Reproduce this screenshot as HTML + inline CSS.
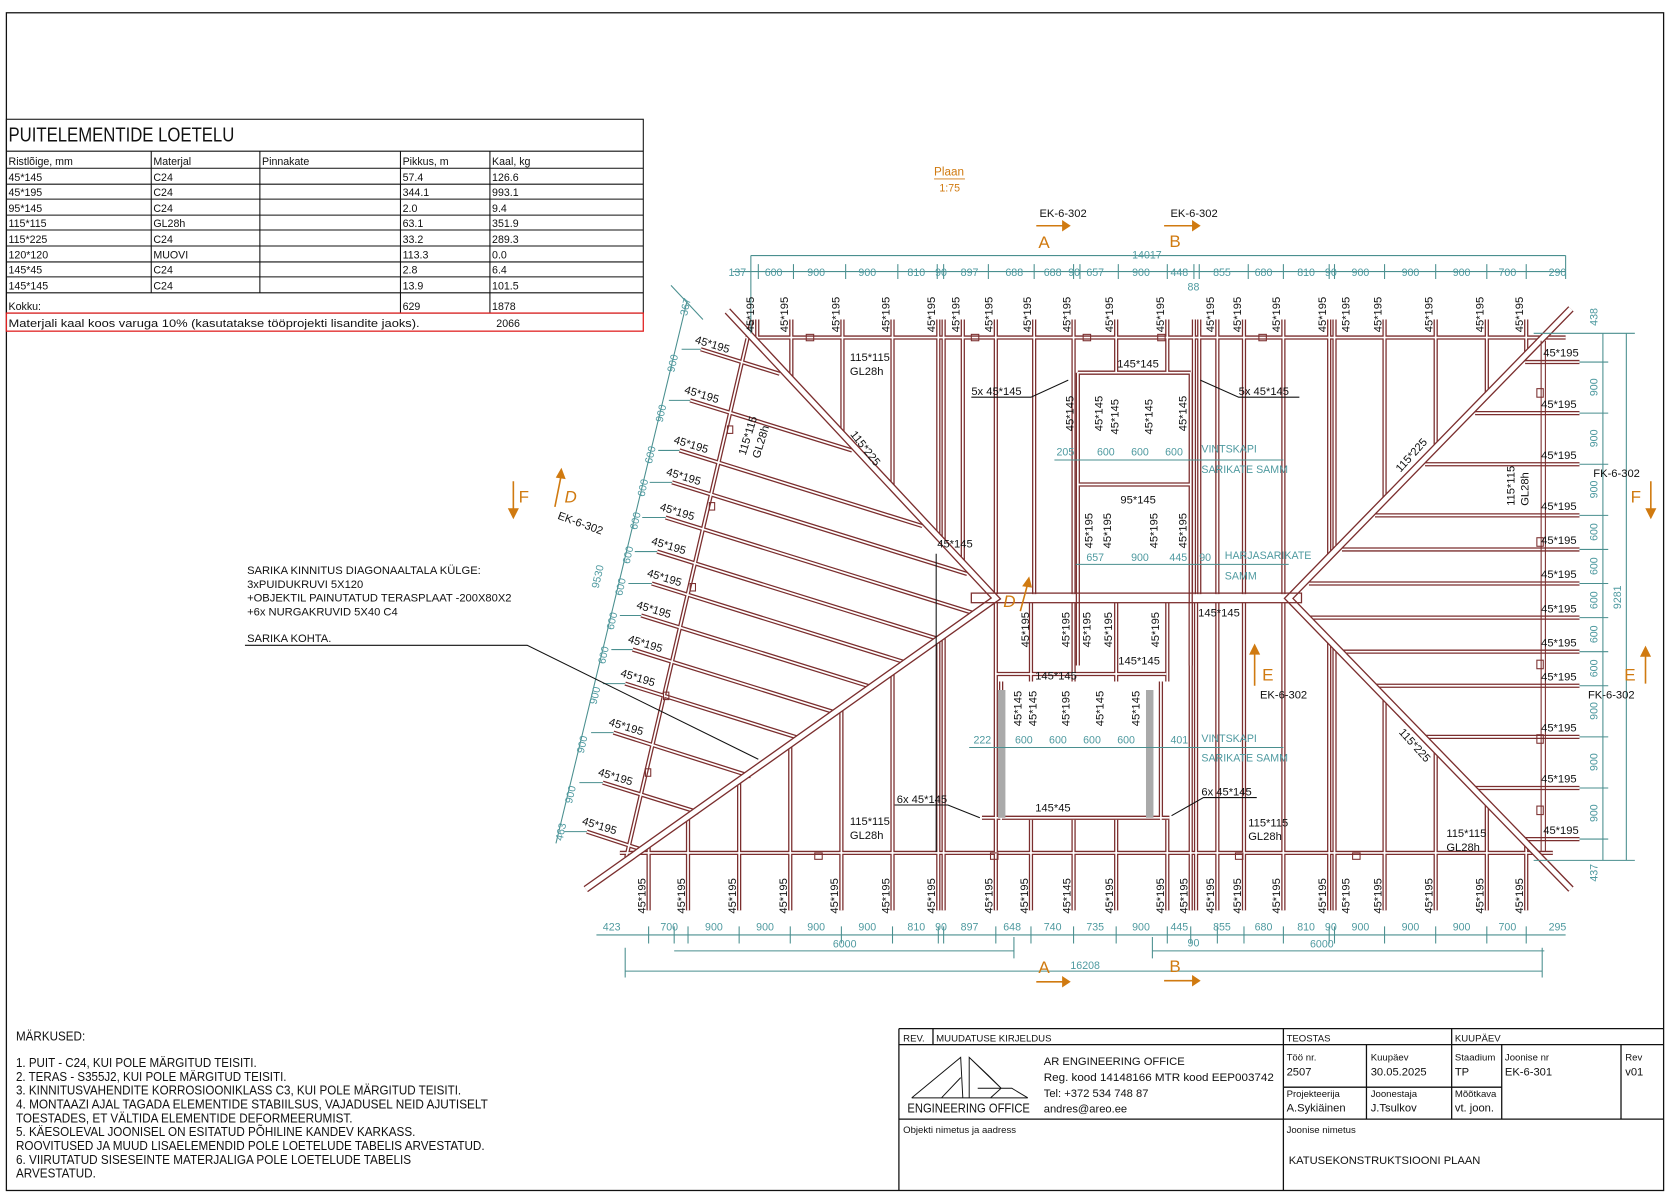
<!DOCTYPE html>
<html><head><meta charset="utf-8"><style>
html,body{margin:0;padding:0;background:#fff;}
svg{display:block}
text{font-family:"Liberation Sans Narrow","Liberation Sans",sans-serif;}
.t{fill:#111;font-size:10px}
.tl{fill:#4f9aa0;font-size:10px}
.o{fill:#d07a10;font-size:14px}
.rl{fill:#111;font-size:10.5px}
</style></head><body>
<svg width="1670" height="1199" viewBox="0 0 1568 1126" preserveAspectRatio="none" xmlns="http://www.w3.org/2000/svg">
<defs>
<g id="R">
<path d="M700 317H1470 M582 801H1458"/>
<path d="M711 300V323 M743 300V357 M791 300V408 M838 300V459 M881 300V504 M886 300V509 M904 300V529 M935 300V558 M971 300V558 M1008 300V558 M1048 300V350 M1096 300V350 M1121 300V558 M1126 300V558 M1143 300V558 M1168 300V558 M1205 300V558 M1248 300V523 M1253 300V518 M1300 300V470 M1348 300V420 M1396 300V371 M1433 300V333"/>
<path d="M609 793V855 M646 767V855 M694 733V855 M742 699V855 M790 665V855 M838 631V855 M881 600V855 M886 597V855 M935 566V855 M968 566V640 M1008 566V640 M1048 566V640 M1096 566V640 M1118 566V855 M1123 566V855 M1143 566V855 M1168 566V855 M1205 566V855 M1248 601V855 M1253 606V855 M1300 655V855 M1348 705V855 M1396 754V855 M1433 793V855 M968 770V855 M1008 770V855 M1048 770V855 M1096 770V855"/>
<path d="M658 328L732 351 M648 376L800 423 M638 423L866 494 M631 453L908 539 M625 486L918 577 M617 518L884 601 M612 548L853 623 M602 578L821 646 M594 610L787 670 M587 642L753 694 M576 688L705 729 M566 735L656 763 M551 781L606 799"/>
<path d="M1432 340H1483 M1385 388H1483 M1338 436H1483 M1291 484H1483 M1260 516H1483 M1229 548H1483 M1230 580H1483 M1261 612H1483 M1292 644H1483 M1338 692H1483 M1385 740H1483 M1432 788H1483"/>
<path d="M706 300L588 805"/>
<path d="M1012 350H1118 M1012 455H1118 M935 633H1095 M1012 350V625 M1118 350V625 M940 640V770 M1090 640V770 M922 768H1098"/>
</g>
<g id="H"><path d="M683 292L935 562L550 835 M1475 290L1210 562L1475 835"/></g>
</defs>
<rect x="6" y="12" width="1556" height="1106" fill="none" stroke="#111" stroke-width="1.2"/>

<g stroke="#111" stroke-width="1" fill="none">
<rect x="6" y="112" width="598" height="182"/>
<path d="M6 142H604 M6 158H604 M6 173H604 M6 187H604 M6 202H604 M6 216H604 M6 231H604 M6 246H604 M6 260H604 M6 275H604"/>
<path d="M142 142V275 M244 142V275 M376 142V294 M460 142V294"/>
</g>
<rect x="6" y="294" width="598" height="17" fill="none" stroke="#e02020" stroke-width="1.2"/>
<text x="8" y="133" style="font-size:19px" fill="#111" textLength="212" lengthAdjust="spacingAndGlyphs">PUITELEMENTIDE LOETELU</text>
<g class="t">
<text x="8" y="155">Ristlõige, mm</text><text x="144" y="155">Materjal</text><text x="246" y="155">Pinnakate</text><text x="378" y="155">Pikkus, m</text><text x="462" y="155">Kaal, kg</text>
<text x="8" y="170">45*145</text><text x="144" y="170">C24</text><text x="378" y="170">57.4</text><text x="462" y="170">126.6</text>
<text x="8" y="184">45*195</text><text x="144" y="184">C24</text><text x="378" y="184">344.1</text><text x="462" y="184">993.1</text>
<text x="8" y="199">95*145</text><text x="144" y="199">C24</text><text x="378" y="199">2.0</text><text x="462" y="199">9.4</text>
<text x="8" y="213">115*115</text><text x="144" y="213">GL28h</text><text x="378" y="213">63.1</text><text x="462" y="213">351.9</text>
<text x="8" y="228">115*225</text><text x="144" y="228">C24</text><text x="378" y="228">33.2</text><text x="462" y="228">289.3</text>
<text x="8" y="243">120*120</text><text x="144" y="243">MUOVI</text><text x="378" y="243">113.3</text><text x="462" y="243">0.0</text>
<text x="8" y="257">145*45</text><text x="144" y="257">C24</text><text x="378" y="257">2.8</text><text x="462" y="257">6.4</text>
<text x="8" y="272">145*145</text><text x="144" y="272">C24</text><text x="378" y="272">13.9</text><text x="462" y="272">101.5</text>
<text x="8" y="291">Kokku:</text><text x="378" y="291">629</text><text x="462" y="291">1878</text>
<text x="8" y="307" textLength="386" lengthAdjust="spacingAndGlyphs">Materjali kaal koos varuga 10% (kasutatakse tööprojekti lisandite jaoks).</text><text x="466" y="307">2066</text>
</g>

<g fill="none" stroke="#7b2e2e" stroke-width="4"><use href="#R"/></g>
<g fill="none" stroke="#fff" stroke-width="1.6"><use href="#R"/></g>
<g fill="none" stroke="#7b2e2e" stroke-width="7"><use href="#H"/></g>
<g fill="none" stroke="#fff" stroke-width="4.5"><use href="#H"/></g>
<rect x="912" y="557" width="310" height="9" fill="none" stroke="#7b2e2e" stroke-width="1.2"/>
<g fill="none" stroke="#7b2e2e" stroke-width="1">
<path d="M1447 320V800 M1451 320V800"/>
<rect x="757" y="314" width="7" height="6"/><rect x="912" y="314" width="7" height="6"/><rect x="1017" y="314" width="7" height="6"/><rect x="1087" y="314" width="7" height="6"/><rect x="1182" y="314" width="7" height="6"/>
<rect x="683" y="400" width="5" height="7"/><rect x="666" y="472" width="5" height="7"/><rect x="648" y="548" width="5" height="7"/><rect x="623" y="650" width="5" height="7"/><rect x="606" y="722" width="5" height="7"/>
<rect x="765" y="801" width="7" height="6"/><rect x="930" y="801" width="7" height="6"/><rect x="1160" y="801" width="7" height="6"/><rect x="1270" y="801" width="7" height="6"/>
<rect x="1443" y="365" width="6" height="8"/><rect x="1443" y="505" width="6" height="8"/><rect x="1443" y="620" width="6" height="8"/><rect x="1443" y="690" width="6" height="8"/><rect x="1443" y="757" width="6" height="8"/>
</g>
<rect x="937" y="648" width="7" height="120" fill="#aaa"/><rect x="1076" y="648" width="7" height="120" fill="#aaa"/>
<path d="M879 520V800" stroke="#111" stroke-width="1"/>

<g stroke="#4a8f8f" stroke-width="1" fill="none">
<path d="M688 255H1470 M705 240H1470 M705 240V313 M1470 240V262"/>
<path d="M712 248V262 M745 248V262 M794 248V262 M843 248V262 M880 248V262 M886 248V262 M928 248V262 M971 248V262 M1008 248V262 M1014 248V262 M1050 248V262 M1096 248V262 M1121 248V262 M1126 248V262 M1172 248V262 M1205 248V262 M1248 248V262 M1253 248V262 M1300 248V262 M1348 248V262 M1396 248V262 M1433 248V262"/>
<path d="M560 878H1470 M633 870V886 M609 870V886 M646 870V886 M694 870V886 M742 870V886 M790 870V886 M838 870V886 M881 870V886 M886 870V886 M935 870V886 M968 870V886 M1008 870V886 M1048 870V886 M1096 870V886 M1118 870V886 M1143 870V886 M1168 870V886 M1205 870V886 M1248 870V886 M1253 870V886 M1300 870V886 M1348 870V886 M1396 870V886 M1433 870V886"/>
<path d="M633 893H952 M952 880V900 M1082 893H1450 M1082 880V900 M587 912H1448 M587 890V918 M1448 890V918"/>
<path d="M1505 313V808 M1527 313V808 M1440 313H1535 M1440 808H1535 M1483 340H1510 M1483 388H1510 M1483 436H1510 M1483 484H1510 M1483 516H1510 M1483 548H1510 M1483 580H1510 M1483 612H1510 M1483 644H1510 M1483 692H1510 M1483 740H1510 M1483 788H1510"/>
<path d="M645 283L522 792 M630 268L660 300 M640 328L658 328 M628 376L648 376 M618 423L638 423 M610 453L631 453 M603 486L625 486 M596 518L617 518 M590 548L612 548 M582 578L602 578 M574 610L594 610 M566 642L587 642 M555 688L576 688 M544 735L566 735 M530 781L551 781"/>
<path d="M990 432H1205 M1010 530H1210 M910 702H1205"/>
</g>
<g class="tl">
<text x="684" y="259">137</text><text x="718" y="259">600</text><text x="758" y="259">900</text><text x="806" y="259">900</text><text x="852" y="259">810</text><text x="878" y="259">90</text><text x="902" y="259">897</text><text x="944" y="259">688</text><text x="980" y="259">688</text><text x="1003" y="259">90</text><text x="1020" y="259">657</text><text x="1063" y="259">900</text><text x="1099" y="259">448</text><text x="1115" y="273">88</text><text x="1139" y="259">855</text><text x="1178" y="259">680</text><text x="1218" y="259">810</text><text x="1244" y="259">90</text><text x="1269" y="259">900</text><text x="1316" y="259">900</text><text x="1364" y="259">900</text><text x="1407" y="259">700</text><text x="1454" y="259">290</text>
<text x="1063" y="243">14017</text>
<text x="566" y="874">423</text><text x="620" y="874">700</text><text x="662" y="874">900</text><text x="710" y="874">900</text><text x="758" y="874">900</text><text x="806" y="874">900</text><text x="852" y="874">810</text><text x="878" y="874">90</text><text x="902" y="874">897</text><text x="942" y="874">648</text><text x="980" y="874">740</text><text x="1020" y="874">735</text><text x="1063" y="874">900</text><text x="1099" y="874">445</text><text x="1139" y="874">855</text><text x="1178" y="874">680</text><text x="1218" y="874">810</text><text x="1244" y="874">90</text><text x="1269" y="874">900</text><text x="1316" y="874">900</text><text x="1364" y="874">900</text><text x="1407" y="874">700</text><text x="1454" y="874">295</text>
<text x="782" y="890">6000</text><text x="1115" y="889">90</text><text x="1230" y="890">6000</text><text x="1005" y="910">16208</text>
<text x="992" y="428">205</text><text x="1030" y="428">600</text><text x="1062" y="428">600</text><text x="1094" y="428">600</text>
<text x="1128" y="425">VINTSKAPI</text><text x="1128" y="444">SARIKATE SAMM</text>
<text x="1020" y="527">657</text><text x="1062" y="527">900</text><text x="1098" y="527">445</text><text x="1126" y="527">90</text>
<text x="1150" y="525">HARJASARIKATE</text><text x="1150" y="544">SAMM</text>
<text x="914" y="698">222</text><text x="953" y="698">600</text><text x="985" y="698">600</text><text x="1017" y="698">600</text><text x="1049" y="698">600</text><text x="1099" y="698">401</text>
<text x="1128" y="697">VINTSKAPI</text><text x="1128" y="715">SARIKATE SAMM</text>
<g transform="translate(1500,0)">
<text transform="translate(0,306) rotate(-90)">438</text><text transform="translate(0,372) rotate(-90)">900</text><text transform="translate(0,420) rotate(-90)">900</text><text transform="translate(0,468) rotate(-90)">900</text><text transform="translate(0,508) rotate(-90)">600</text><text transform="translate(0,540) rotate(-90)">600</text><text transform="translate(0,572) rotate(-90)">600</text><text transform="translate(0,604) rotate(-90)">600</text><text transform="translate(0,636) rotate(-90)">600</text><text transform="translate(0,676) rotate(-90)">900</text><text transform="translate(0,724) rotate(-90)">900</text><text transform="translate(0,772) rotate(-90)">900</text><text transform="translate(0,828) rotate(-90)">437</text>
</g>
<text transform="translate(1522,572) rotate(-90)">9281</text>
<text transform="translate(645,297) rotate(-77)">367</text><text transform="translate(633,350) rotate(-77)">900</text><text transform="translate(622,397) rotate(-77)">900</text><text transform="translate(612,436) rotate(-77)">600</text><text transform="translate(605,467) rotate(-77)">600</text><text transform="translate(598,498) rotate(-77)">600</text><text transform="translate(591,530) rotate(-77)">600</text><text transform="translate(584,560) rotate(-77)">600</text><text transform="translate(576,592) rotate(-77)">600</text><text transform="translate(568,624) rotate(-77)">600</text><text transform="translate(560,662) rotate(-77)">900</text><text transform="translate(548,708) rotate(-77)">900</text><text transform="translate(537,755) rotate(-77)">900</text><text transform="translate(528,790) rotate(-77)">463</text><text transform="translate(562,553) rotate(-77)">9530</text>
</g>

<g class="rl">
<text transform="translate(708,312) rotate(-90)">45*195</text><text transform="translate(740,312) rotate(-90)">45*195</text><text transform="translate(788,312) rotate(-90)">45*195</text><text transform="translate(835,312) rotate(-90)">45*195</text><text transform="translate(878,312) rotate(-90)">45*195</text><text transform="translate(901,312) rotate(-90)">45*195</text><text transform="translate(932,312) rotate(-90)">45*195</text><text transform="translate(968,312) rotate(-90)">45*195</text><text transform="translate(1005,312) rotate(-90)">45*195</text><text transform="translate(1045,312) rotate(-90)">45*195</text><text transform="translate(1093,312) rotate(-90)">45*195</text><text transform="translate(1140,312) rotate(-90)">45*195</text><text transform="translate(1165,312) rotate(-90)">45*195</text><text transform="translate(1202,312) rotate(-90)">45*195</text><text transform="translate(1245,312) rotate(-90)">45*195</text><text transform="translate(1267,312) rotate(-90)">45*195</text><text transform="translate(1297,312) rotate(-90)">45*195</text><text transform="translate(1345,312) rotate(-90)">45*195</text><text transform="translate(1393,312) rotate(-90)">45*195</text><text transform="translate(1430,312) rotate(-90)">45*195</text>
<text transform="translate(606,858) rotate(-90)">45*195</text><text transform="translate(643,858) rotate(-90)">45*195</text><text transform="translate(691,858) rotate(-90)">45*195</text><text transform="translate(739,858) rotate(-90)">45*195</text><text transform="translate(787,858) rotate(-90)">45*195</text><text transform="translate(835,858) rotate(-90)">45*195</text><text transform="translate(878,858) rotate(-90)">45*195</text><text transform="translate(932,858) rotate(-90)">45*195</text><text transform="translate(965,858) rotate(-90)">45*195</text><text transform="translate(1005,858) rotate(-90)">45*145</text><text transform="translate(1045,858) rotate(-90)">45*195</text><text transform="translate(1093,858) rotate(-90)">45*195</text><text transform="translate(1115,858) rotate(-90)">45*195</text><text transform="translate(1140,858) rotate(-90)">45*195</text><text transform="translate(1165,858) rotate(-90)">45*195</text><text transform="translate(1202,858) rotate(-90)">45*195</text><text transform="translate(1245,858) rotate(-90)">45*195</text><text transform="translate(1267,858) rotate(-90)">45*195</text><text transform="translate(1297,858) rotate(-90)">45*195</text><text transform="translate(1345,858) rotate(-90)">45*195</text><text transform="translate(1393,858) rotate(-90)">45*195</text><text transform="translate(1430,858) rotate(-90)">45*195</text>
<text transform="translate(652,322) rotate(17)">45*195</text><text transform="translate(642,369) rotate(17)">45*195</text><text transform="translate(632,416) rotate(17)">45*195</text><text transform="translate(625,446) rotate(17)">45*195</text><text transform="translate(619,479) rotate(17)">45*195</text><text transform="translate(611,511) rotate(17)">45*195</text><text transform="translate(607,541) rotate(17)">45*195</text><text transform="translate(597,571) rotate(17)">45*195</text><text transform="translate(589,603) rotate(17)">45*195</text><text transform="translate(582,635) rotate(17)">45*195</text><text transform="translate(571,681) rotate(17)">45*195</text><text transform="translate(561,728) rotate(17)">45*195</text><text transform="translate(546,774) rotate(17)">45*195</text>
<text x="1449" y="335">45*195</text><text x="1447" y="383">45*195</text><text x="1447" y="431">45*195</text><text x="1447" y="479">45*195</text><text x="1447" y="511">45*195</text><text x="1447" y="543">45*195</text><text x="1447" y="575">45*195</text><text x="1447" y="607">45*195</text><text x="1447" y="639">45*195</text><text x="1447" y="687">45*195</text><text x="1447" y="735">45*195</text><text x="1449" y="783">45*195</text>
<text x="798" y="339">115*115</text><text x="798" y="352">GL28h</text>
<text transform="translate(700,428) rotate(-73)">115*115</text><text transform="translate(713,431) rotate(-73)">GL28h</text>
<text transform="translate(798,408) rotate(52)">115*225</text><text transform="translate(1315,444) rotate(-48)">115*225</text><text transform="translate(1313,688) rotate(48)">115*225</text>
<text transform="translate(1422,475) rotate(-90)">115*115</text><text transform="translate(1435,475) rotate(-90)">GL28h</text>
<text x="1049" y="345">145*145</text><text x="912" y="371">5x 45*145</text><text x="1163" y="371">5x 45*145</text>
<text x="880" y="514">45*145</text><text x="1052" y="473">95*145</text><text x="1125" y="579">145*145</text>
<text x="972" y="638">145*145</text><text x="1050" y="624">145*145</text><text x="972" y="762">145*45</text>
<text x="842" y="754">6x 45*145</text><text x="1128" y="747">6x 45*145</text>
<text x="798" y="775">115*115</text><text x="798" y="788">GL28h</text><text x="1172" y="776">115*115</text><text x="1172" y="789">GL28h</text><text x="1358" y="786">115*115</text><text x="1358" y="799">GL28h</text>
<text transform="translate(1008,405) rotate(-90)">45*145</text><text transform="translate(1035,405) rotate(-90)">45*145</text><text transform="translate(1050,408) rotate(-90)">45*145</text><text transform="translate(1082,408) rotate(-90)">45*145</text><text transform="translate(1114,405) rotate(-90)">45*145</text>
<text transform="translate(1026,515) rotate(-90)">45*195</text><text transform="translate(1043,515) rotate(-90)">45*195</text><text transform="translate(1087,515) rotate(-90)">45*195</text><text transform="translate(1114,515) rotate(-90)">45*195</text>
<text transform="translate(966,608) rotate(-90)">45*195</text><text transform="translate(1004,608) rotate(-90)">45*195</text><text transform="translate(1024,608) rotate(-90)">45*195</text><text transform="translate(1044,608) rotate(-90)">45*195</text><text transform="translate(1088,608) rotate(-90)">45*195</text>
<text transform="translate(959,682) rotate(-90)">45*145</text><text transform="translate(973,682) rotate(-90)">45*145</text><text transform="translate(1004,682) rotate(-90)">45*195</text><text transform="translate(1036,682) rotate(-90)">45*145</text><text transform="translate(1070,682) rotate(-90)">45*145</text>
</g>
<g stroke="#111" stroke-width="1" fill="none">
<path d="M912 373H968L1003 357 M1220 373H1163L1127 357 M840 756H890L920 768 M1180 749H1130L1100 766"/>
<path d="M230 606H495L712 713"/>
</g>
<g class="t" style="font-size:10.5px">
<text x="232" y="539">SARIKA KINNITUS DIAGONAALTALA KÜLGE:</text>
<text x="232" y="552">3xPUIDUKRUVI 5X120</text>
<text x="232" y="565">+OBJEKTIL PAINUTATUD TERASPLAAT -200X80X2</text>
<text x="232" y="578">+6x NURGAKRUVID 5X40 C4</text>
<text x="232" y="603">SARIKA KOHTA.</text>
<text transform="translate(523,487) rotate(20)">EK-6-302</text>
<text x="976" y="204">EK-6-302</text><text x="1099" y="204">EK-6-302</text>
<text x="1496" y="448">FK-6-302</text><text x="1491" y="656">FK-6-302</text><text x="1183" y="656">EK-6-302</text>
</g>

<g class="o">
<text x="877" y="165" style="font-size:11px">Plaan</text><text x="882" y="180" style="font-size:10px">1:75</text>
<text x="975" y="233" style="font-size:16px">A</text><text x="1098" y="232" style="font-size:16px">B</text>
<text x="975" y="914" style="font-size:16px">A</text><text x="1098" y="913" style="font-size:16px">B</text>
<text x="487" y="472" style="font-size:16px">F</text><text x="530" y="472" style="font-size:16px;font-style:italic">D</text>
<text x="942" y="570" style="font-size:16px;font-style:italic">D</text>
<text x="1531" y="472" style="font-size:16px">F</text><text x="1525" y="639" style="font-size:16px">E</text><text x="1185" y="639" style="font-size:16px">E</text>
</g>
<line x1="877" y1="168" x2="906" y2="168" stroke="#d07a10" stroke-width="0.8"/>
<g stroke="#d07a10" stroke-width="1.5" fill="#d07a10">
<path d="M973 212H998 M1093 212H1120 M973 922H998 M1093 921H1120 M482 452V482 M521 476L527 446 M958 574L965 548 M1550 452V482 M1545 642V614 M1178 644V612" fill="none"/>
<path d="M998 208L1004 212L998 216Z M1120 208L1126 212L1120 216Z M998 918L1004 922L998 926Z M1120 917L1126 921L1120 925Z M478 478L482 486L486 478Z M523 448L527 441L530 449Z M961 550L966 543L968 551Z M1546 478L1550 486L1554 478Z M1541 616L1545 608L1549 616Z M1174 614L1178 606L1182 614Z"/>
</g>

<g style="font-family:'Liberation Sans',sans-serif;font-size:12.5px" fill="#111">
<text x="15" y="977" textLength="65" lengthAdjust="spacingAndGlyphs">MÄRKUSED:</text>
<text x="15" y="1002" textLength="226" lengthAdjust="spacingAndGlyphs">1. PUIT - C24, KUI POLE MÄRGITUD TEISITI.</text>
<text x="15" y="1015" textLength="254" lengthAdjust="spacingAndGlyphs">2. TERAS - S355J2, KUI POLE MÄRGITUD TEISITI.</text>
<text x="15" y="1028" textLength="418" lengthAdjust="spacingAndGlyphs">3. KINNITUSVAHENDITE KORROSIOONIKLASS C3, KUI POLE MÄRGITUD TEISITI.</text>
<text x="15" y="1041" textLength="443" lengthAdjust="spacingAndGlyphs">4. MONTAAZI AJAL TAGADA ELEMENTIDE STABIILSUS, VAJADUSEL NEID AJUTISELT</text>
<text x="15" y="1054" textLength="316" lengthAdjust="spacingAndGlyphs">TOESTADES, ET VÄLTIDA ELEMENTIDE DEFORMEERUMIST.</text>
<text x="15" y="1067" textLength="375" lengthAdjust="spacingAndGlyphs">5. KÄESOLEVAL JOONISEL ON ESITATUD PÕHILINE KANDEV KARKASS.</text>
<text x="15" y="1080" textLength="440" lengthAdjust="spacingAndGlyphs">ROOVITUSED JA MUUD LISAELEMENDID POLE LOETELUDE TABELIS ARVESTATUD.</text>
<text x="15" y="1093" textLength="371" lengthAdjust="spacingAndGlyphs">6. VIIRUTATUD SISESEINTE MATERJALIGA POLE LOETELUDE TABELIS</text>
<text x="15" y="1106" textLength="75" lengthAdjust="spacingAndGlyphs">ARVESTATUD.</text>
</g>

<g stroke="#111" stroke-width="1.2" fill="none">
<path d="M844 966H1562 M844 981H1562 M844 1051H1562 M1205 1021H1410 M844 966V1118 M876 966V981 M1205 966V1118 M1283 981V1051 M1363 966V1051 M1410 981V1051 M1522 981V1051"/>
<path d="M856 1031L902 993L904 1031 M856 1031H965 M910 1031V993L940 1022 M910 993L928 1010L940 1022L930 1031 M918 1022H950L965 1031 M884 1031L902 1012" stroke-width="0.9"/>
</g>
<g class="t" style="font-size:9px">
<text x="848" y="978">REV.</text><text x="879" y="978">MUUDATUSE KIRJELDUS</text><text x="1208" y="978">TEOSTAS</text><text x="1366" y="978">KUUPÄEV</text>
<text x="1208" y="996">Töö nr.</text><text x="1287" y="996">Kuupäev</text><text x="1366" y="996">Staadium</text><text x="1413" y="996">Joonise nr</text><text x="1526" y="996">Rev</text>
<text x="1208" y="1030">Projekteerija</text><text x="1287" y="1030">Joonestaja</text><text x="1366" y="1030">Mõõtkava</text>
<text x="848" y="1064">Objekti nimetus ja aadress</text><text x="1208" y="1064">Joonise nimetus</text>
</g>
<g class="t" style="font-size:10.5px">
<text x="1208" y="1010">2507</text><text x="1287" y="1010">30.05.2025</text><text x="1366" y="1010">TP</text><text x="1413" y="1010">EK-6-301</text><text x="1526" y="1010">v01</text>
<text x="1208" y="1044">A.Sykiäinen</text><text x="1287" y="1044">J.Tsulkov</text><text x="1366" y="1044">vt. joon.</text>
<text x="980" y="1000">AR ENGINEERING OFFICE</text>
<text x="980" y="1015" textLength="216" lengthAdjust="spacingAndGlyphs">Reg. kood 14148166 MTR kood EEP003742</text>
<text x="980" y="1030">Tel: +372 534 748 87</text>
<text x="980" y="1045">andres@areo.ee</text>
<text x="852" y="1045" style="font-size:12px" textLength="115" lengthAdjust="spacingAndGlyphs">ENGINEERING OFFICE</text>
<text x="1210" y="1093">KATUSEKONSTRUKTSIOONI PLAAN</text>
</g>
</svg>
</body></html>
